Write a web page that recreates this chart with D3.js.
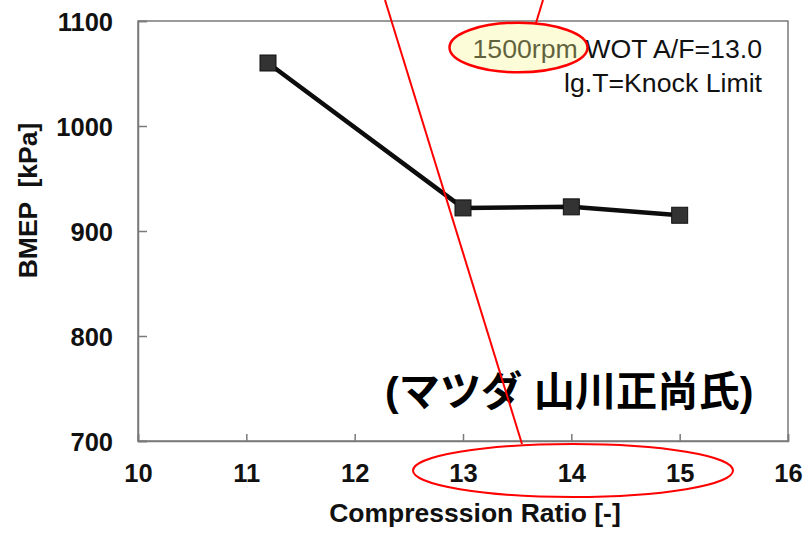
<!DOCTYPE html>
<html><head><meta charset="utf-8">
<script src="https://cdn.jsdelivr.net/npm/d3@7"></script>
<style>body{margin:0;background:#fff}svg{display:block}</style>
</head><body>
<svg id="c" width="807" height="533"></svg>
<script>
const compressionRatio = [11.2, 13, 14, 15];
const bmep = [1060, 922, 923, 915];
const xTicks = [10, 11, 12, 13, 14, 15, 16];
const yTicks = [700, 800, 900, 1000, 1100];
const xLabel = "Compresssion Ratio [-]";
const yLabel = "BMEP  [kPa]";
const noteRpm = "1500rpm";
const noteLine1 = " WOT A/F=13.0";
const noteLine2 = "lg.T=Knock Limit";
const credit = "(マツダ 山川正尚氏)";

const svg = d3.select("#c");
const L = 138, R = 788, T = 21, B = 441;
const x = d3.scaleLinear().domain([10, 16]).range([L, R]);
const y = d3.scaleLinear().domain([700, 1100]).range([B, T]);
const font = "'Liberation Sans', Arial, sans-serif";

// frame
svg.append("rect").attr("x", L).attr("y", T).attr("width", R - L).attr("height", B - T)
  .attr("fill", "none").attr("stroke", "#7a7a7a").attr("stroke-width", 1.5);

// axes
const xa = svg.append("g").attr("transform", `translate(0,${B})`)
  .call(d3.axisBottom(x).tickValues(xTicks).tickSize(-7).tickPadding(0).tickFormat(d3.format("d")));
xa.select(".domain").attr("stroke", "#7a7a7a").attr("stroke-width", 1.5);
xa.selectAll(".tick line").attr("stroke", "#7a7a7a").attr("stroke-width", 1.5);
xa.selectAll(".tick text").attr("y", 40.7).attr("dy", null)
  .attr("font-family", font).attr("font-weight", "bold").attr("font-size", 25.5).attr("fill", "#111");

const ya = svg.append("g").attr("transform", `translate(${L},0)`)
  .call(d3.axisLeft(y).tickValues(yTicks).tickSize(-9).tickPadding(0).tickFormat(d3.format("d")));
ya.select(".domain").attr("stroke", "#7a7a7a").attr("stroke-width", 1.5);
ya.selectAll(".tick line").attr("stroke", "#7a7a7a").attr("stroke-width", 1.5);
ya.selectAll(".tick text").attr("x", -25).attr("dy", "0.36em")
  .attr("font-family", font).attr("font-weight", "bold").attr("font-size", 25.5).attr("fill", "#111");

// axis labels
svg.append("text").attr("x", 475).attr("y", 521.7).attr("text-anchor", "middle")
  .attr("font-family", font).attr("font-weight", "bold").attr("font-size", 26.5).attr("fill", "#111")
  .text(xLabel);
svg.append("text").attr("transform", "translate(37,200.5) rotate(-90)").attr("text-anchor", "middle")
  .attr("font-family", font).attr("font-weight", "bold").attr("font-size", 26.5).attr("fill", "#111")
  .style("white-space", "pre").text(yLabel);

// data line
const pts = compressionRatio.map((c, i) => [x(c), y(bmep[i])]);
svg.append("path").attr("d", d3.line()(pts)).attr("fill", "none")
  .attr("stroke", "#0d0d0d").attr("stroke-width", 4.5).attr("stroke-linejoin", "round");
svg.selectAll("rect.m").data(pts).join("rect").attr("class", "m")
  .attr("x", d => d[0] - 8).attr("y", d => d[1] - 8).attr("width", 16).attr("height", 16)
  .attr("fill", "#333").attr("stroke", "#111").attr("stroke-width", 1);

// annotation text
const ann = svg.append("text").attr("x", 762).attr("y", 58.3).attr("text-anchor", "end")
  .attr("font-family", font).attr("font-size", 26.7).attr("fill", "#111").style("white-space", "pre");
ann.append("tspan").text(noteRpm);
ann.append("tspan").text(noteLine1);
svg.append("text").attr("x", 762).attr("y", 91.7).attr("text-anchor", "end")
  .attr("font-family", font).attr("font-size", 26.7).attr("fill", "#111").text(noteLine2);

// highlight ellipse (semi-transparent)
svg.append("ellipse").attr("cx", 518.5).attr("cy", 47.5).attr("rx", 69).attr("ry", 24.8)
  .attr("fill", "rgb(245,245,143)").attr("fill-opacity", 0.35)
  .attr("stroke", "#ff0000").attr("stroke-width", 2.5);

// credit
svg.append("text").attr("x", 385).attr("y", 406)
  .attr("font-family", "'Liberation Sans', 'Noto Sans CJK JP', sans-serif")
  .attr("font-weight", "bold").attr("font-size", 41.2).attr("fill", "#000").text(credit);

// red callouts
svg.append("line").attr("x1", 385).attr("y1", 0).attr("x2", 522).attr("y2", 444)
  .attr("stroke", "#ff0000").attr("stroke-width", 2);
svg.append("line").attr("x1", 543).attr("y1", 0).attr("x2", 536).attr("y2", 23)
  .attr("stroke", "#ff0000").attr("stroke-width", 2);
svg.append("ellipse").attr("cx", 573).attr("cy", 470.5).attr("rx", 160).attr("ry", 26.5)
  .attr("fill", "none").attr("stroke", "#ff0000").attr("stroke-width", 2);
</script>
</body></html>
